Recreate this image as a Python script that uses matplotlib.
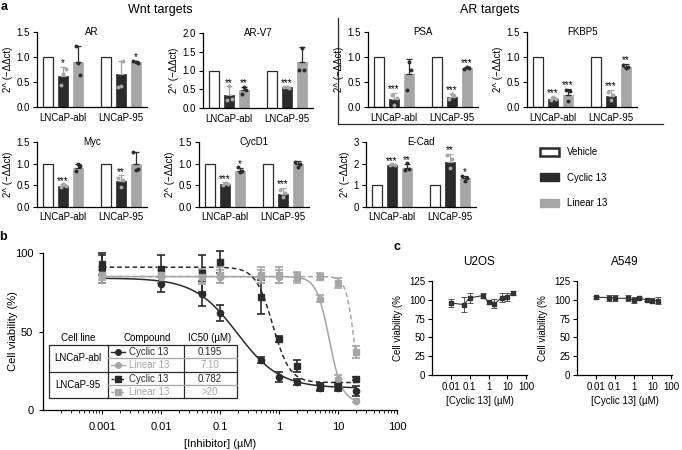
import numpy as np
import matplotlib
matplotlib.use('Agg')
import matplotlib.pyplot as plt
from matplotlib.patches import Patch, Rectangle
from matplotlib.lines import Line2D

plt.rcParams['font.family'] = ['Liberation Sans', 'DejaVu Sans']
plt.rcParams['font.size'] = 7
plt.rcParams['axes.linewidth'] = 0.9

DARK = '#2b2b2b'
GREY = '#a6a6a6'

W, H = 682, 450

# ---------------- panel a data ----------------
cell_lines = ['LNCaP-abl', 'LNCaP-95']
treatments = ['Vehicle', 'Cyclic 13', 'Linear 13']
vehicle_mean = 1.0
# order inside each list: abl cyclic, abl linear, 95 cyclic, 95 linear
qpcr_mean = {
    'AR':    [0.62, 0.90, 0.66, 0.90],
    'AR-V7': [0.36, 0.47, 0.55, 1.22],
    'PSA':   [0.17, 0.67, 0.21, 0.78],
    'FKBP5': [0.17, 0.25, 0.23, 0.81],
    'Myc':   [0.48, 0.89, 0.60, 1.00],
    'CycD1': [0.53, 0.84, 0.31, 1.00],
    'E-Cad': [1.95, 1.78, 2.09, 1.32],
}
qpcr_sd = {
    'AR':    [0.19, 0.32, 0.27, 0.03],
    'AR-V7': [0.22, 0.09, 0.02, 0.40],
    'PSA':   [0.12, 0.29, 0.05, 0.03],
    'FKBP5': [0.04, 0.12, 0.12, 0.05],
    'Myc':   [0.04, 0.10, 0.13, 0.27],
    'CycD1': [0.04, 0.06, 0.13, 0.07],
    'E-Cad': [0.02, 0.22, 0.36, 0.13],
}
qpcr_pts = {
    'AR':    [[0.45, 0.66, 0.76], [1.22, 0.88, 0.65], [0.40, 0.42, 0.93], [0.93, 0.90, 0.88]],
    'AR-V7': [[0.22, 0.60, 0.24], [0.38, 0.55, 0.48], [0.56, 0.55, 0.54], [1.02, 1.60, 1.02]],
    'PSA':   [[0.25, 0.05, 0.18], [0.35, 0.91, 0.75], [0.17, 0.26, 0.22], [0.77, 0.81, 0.79]],
    'FKBP5': [[0.14, 0.20, 0.17], [0.35, 0.12, 0.32], [0.30, 0.15, 0.25], [0.85, 0.79, 0.80]],
    'Myc':   [[0.46, 0.52, 0.48], [0.82, 0.99, 0.95], [0.66, 0.47, 0.62], [1.27, 0.85, 0.88]],
    'CycD1': [[0.51, 0.56, 0.53], [0.92, 0.80, 0.84], [0.40, 0.22, 0.33], [1.05, 0.92, 1.00]],
    'E-Cad': [[1.93, 1.97, 1.95], [1.72, 2.02, 1.75], [2.42, 1.82, 2.20], [1.45, 1.21, 1.35]],
}
qpcr_stars = {
    'AR':    ['*', '', '', '*'],
    'AR-V7': ['**', '**', '***', ''],
    'PSA':   ['***', '', '***', '***'],
    'FKBP5': ['***', '***', '***', '**'],
    'Myc':   ['***', '', '**', ''],
    'CycD1': ['***', '*', '***', ''],
    'E-Cad': ['***', '**', '**', '*'],
}
qpcr_yticks = {
    'AR': [0, 0.5, 1.0, 1.5], 'AR-V7': [0, 0.5, 1.0, 1.5, 2.0],
    'PSA': [0, 0.5, 1.0, 1.5], 'FKBP5': [0, 0.5, 1.0, 1.5],
    'Myc': [0, 0.5, 1.0, 1.5], 'CycD1': [0, 0.5, 1.0, 1.5],
    'E-Cad': [0, 1, 2, 3],
}

# ---------------- panel b data ----------------
conc = [0.001, 0.01, 0.05, 0.1, 0.5, 1, 2, 5, 10, 20]
abl_cyc = [90, 80, 74, 62, 32, 21, 18, 14, 14, 12]
abl_cyc_sd = [9, 5, 8, 5, 2, 3, 2, 2, 2, 3]
abl_lin = [86, 85, 85, 85, 85, 85, 84, 71, 20, 6]
abl_lin_sd = [3, 4, 4, 4, 4, 4, 3, 2, 2, 1]
p95_cyc = [93, 90, 87, 94, 72, 45, 28, 15, 15, 20]
p95_cyc_sd = [7, 9, 12, 7, 11, 2, 4, 2, 2, 1]
p95_lin = [86, 86, 85, 86, 86, 86, 85, 85, 81, 37]
p95_lin_sd = [5, 5, 5, 5, 5, 5, 3, 2, 3, 4]
# 4-parameter logistic fits: top, bottom, IC50, hill
fit_abl_cyc = (84, 14, 0.195, 1.2)
fit_abl_lin = (85, 5, 7.10, 4.0)
fit_95_cyc = (91, 17.5, 0.782, 3.0)
fit_95_lin = (85, 0, 19.0, 6.0)
ic50_text = ['0.195', '7.10', '0.782', '>20']

# ---------------- panel c data ----------------
conc_c = [0.01, 0.05, 0.1, 0.5, 1, 2, 5, 10, 20]
u2os = [95.8, 93.6, 102.5, 105.6, 96.7, 94.5, 103, 103.4, 109]
u2os_sd = [5, 10, 7, 3, 2, 6, 6, 5, 3]
a549 = [103.3, 103, 102, 102, 99.7, 102.4, 99.7, 98.8, 98.8]
a549_sd = [2, 4, 4, 4, 4, 1, 1, 3, 5]


def rect(x0, y0, x1, y1):
    return [x0 / W, 1 - y1 / H, (x1 - x0) / W, (y1 - y0) / H]


def logistic(x, p):
    top, bottom, ic, hill = p
    return bottom + (top - bottom) / (1 + (x / ic) ** hill)


fig = plt.figure(figsize=(6.82, 4.5), dpi=100)


def bar_panel(box, gene):
    ax = fig.add_axes(rect(*box))
    ymax = qpcr_yticks[gene][-1]
    gap = 3.87
    for g in range(2):
        base = g * gap
        ax.bar(base, vehicle_mean, 0.7, color='white', edgecolor=DARK, lw=0.9)
        for t, (face, other) in enumerate([(DARK, GREY), (GREY, DARK)]):
            k = 2 * g + t
            x = base + 1 + t
            m = qpcr_mean[gene][k]
            s = qpcr_sd[gene][k]
            ax.bar(x, m, 0.7, color=face, edgecolor=face, lw=0.5)
            ax.errorbar(x, m, yerr=[[0], [s]], color=other, capsize=2,
                        elinewidth=0.9, capthick=0.9, fmt='none')
            ax.scatter(x + np.array([-0.16, 0.0, 0.16]), qpcr_pts[gene][k],
                       s=8, color=other, lw=0, zorder=3)
            if qpcr_stars[gene][k]:
                ax.text(x, m + s - ymax * 0.02, qpcr_stars[gene][k],
                        ha='center', va='bottom', fontsize=7)
        ax.text(base + 1, -ymax * 0.08, cell_lines[g], ha='center', va='top',
                fontsize=7)
    ax.set_xlim(-0.75, gap + 2.75)
    ax.set_ylim(0, ymax)
    ax.set_yticks(qpcr_yticks[gene])
    if gene == 'E-Cad':
        ax.set_yticklabels(['%d' % v for v in qpcr_yticks[gene]])
    else:
        ax.set_yticklabels(['%.1f' % v for v in qpcr_yticks[gene]])
    ax.set_xticks([])
    ax.tick_params(axis='y', length=3, width=0.8, pad=2, labelsize=7)
    for sp in ['top', 'right']:
        ax.spines[sp].set_visible(False)
    ax.set_ylabel('2^ (\u2212\u0394\u0394ct)', fontsize=7, labelpad=3)
    ax.text(0.5, 1.0, gene, transform=ax.transAxes, ha='center', va='center',
            fontsize=7)
    return ax


bar_panel((37, 32, 147, 107), 'AR')
bar_panel((203, 33, 313, 108), 'AR-V7')
bar_panel((368, 32, 478, 107), 'PSA')
bar_panel((527, 32, 637, 107), 'FKBP5')
bar_panel((37, 142, 147, 207), 'Myc')
bar_panel((199, 142, 309, 207), 'CycD1')
bar_panel((366, 142, 476, 207), 'E-Cad')

fig.text(160 / W, 1 - 10 / H, 'Wnt targets', ha='center', va='center', fontsize=9)
fig.text(490 / W, 1 - 10 / H, 'AR targets', ha='center', va='center', fontsize=9)
fig.add_artist(Line2D([338 / W, 338 / W], [1 - 18 / H, 1 - 124 / H], color=DARK, lw=0.9))
fig.add_artist(Line2D([338 / W, 663 / W], [1 - 124 / H, 1 - 124 / H], color=DARK, lw=0.9))

handles = [Patch(facecolor='white', edgecolor=DARK, lw=1.8),
           Patch(facecolor=DARK, edgecolor=DARK),
           Patch(facecolor=GREY, edgecolor=GREY)]
fig.legend(handles, treatments, loc='upper left', bbox_to_anchor=(540 / W, 1 - 147 / H),
           frameon=False, fontsize=7, handlelength=2.0, handleheight=0.85,
           labelspacing=1.6, handletextpad=0.75, borderpad=0, borderaxespad=0)

# ---------------- panel b ----------------
axb = fig.add_axes(rect(43, 253, 397, 410))
xx = np.logspace(-3, np.log10(20), 300)
series_b = [
    (abl_cyc, abl_cyc_sd, fit_abl_cyc, DARK, 'o', '-'),
    (abl_lin, abl_lin_sd, fit_abl_lin, GREY, 'o', '-'),
    (p95_cyc, p95_cyc_sd, fit_95_cyc, DARK, 's', '--'),
    (p95_lin, p95_lin_sd, fit_95_lin, GREY, 's', '--'),
]
for vals, sds, fit, col, mk, ls in series_b:
    axb.plot(xx, logistic(xx, fit), color=col, lw=1.1, ls=ls,
             dashes=(3, 2) if ls == '--' else (None, None))
    axb.errorbar(conc, vals, yerr=sds, fmt=mk, color=col, ms=4.5, capsize=3,
                 elinewidth=1.2, capthick=1.2, clip_on=False)
axb.set_xscale('log')
axb.set_xlim(1e-4, 100)
axb.set_ylim(0, 100)
axb.set_xticks([0.001, 0.01, 0.1, 1, 10, 100])
axb.set_xticklabels(['0.001', '0.01', '0.1', '1', '10', '100'])
axb.set_yticks([0, 50, 100])
axb.tick_params(labelsize=8, length=3, width=0.8, pad=4)
axb.tick_params(axis='x', which='minor', length=2, width=0.6)
axb.tick_params(axis='x', pad=6)
for sp in ['top', 'right']:
    axb.spines[sp].set_visible(False)
axb.set_xlabel('[Inhibitor] (\u00b5M)', fontsize=8, labelpad=5)
fig.text(13 / W, 1 - 331 / H, 'Cell viability (%)', rotation=90, ha='center',
         va='center', fontsize=8)

# table inside panel b (pixel layout)
axt = fig.add_axes(rect(46, 330, 242, 402))
axt.set_xlim(46, 242)
axt.set_ylim(402, 330)
axt.axis('off')
axt.add_patch(Rectangle((49, 345), 188, 53, facecolor='white', edgecolor=DARK, lw=0.9))
axt.plot([108, 108], [345, 398], color=DARK, lw=0.9)
axt.plot([184, 184], [345, 398], color=DARK, lw=0.9)
axt.plot([49, 237], [371.5, 371.5], color=DARK, lw=0.9)
axt.plot([108, 237], [358, 358], color=GREY, lw=0.9)
axt.plot([108, 237], [385, 385], color=GREY, lw=0.9)
axt.text(78, 338, 'Cell line', ha='center', va='center', fontsize=7)
axt.text(147, 338, 'Compound', ha='center', va='center', fontsize=7)
axt.text(210, 338, 'IC50 (\u00b5M)', ha='center', va='center', fontsize=7)
axt.text(78, 358, cell_lines[0], ha='center', va='center', fontsize=7)
axt.text(78, 385, cell_lines[1], ha='center', va='center', fontsize=7)
row_y = [351.5, 365, 378.5, 391.5]
for (vals, sds, fit, col, mk, ls), y, ic, name in zip(series_b, row_y, ic50_text,
                                                      ['Cyclic 13', 'Linear 13'] * 2):
    axt.plot([111, 125], [y, y], color=col, lw=1.0, ls=ls, dashes=(2, 1.5) if ls == '--' else (None, None))
    axt.plot([118], [y], marker=mk, color=col, ms=4)
    axt.text(129, y, name, ha='left', va='center', fontsize=7, color=col)
    axt.text(210, y, ic, ha='center', va='center', fontsize=7, color=col)

# ---------------- panel c ----------------
def viability_panel(box, vals, sds, title):
    ax = fig.add_axes(rect(*box))
    ax.errorbar(conc_c, vals, yerr=sds, fmt='s-', color='#333333', ms=3.5, lw=0.8,
                ecolor='#555555', elinewidth=0.7, capsize=2, capthick=0.7)
    ax.set_xscale('log')
    ax.set_xlim(1e-3, 110)
    ax.set_ylim(0, 125)
    ax.set_xticks([0.01, 0.1, 1, 10, 100])
    ax.set_xticklabels(['0.01', '0.1', '1', '10', '100'])
    ax.set_yticks([0, 25, 50, 75, 100, 125])
    ax.tick_params(labelsize=7, length=3, width=0.8, pad=2)
    ax.tick_params(axis='x', which='minor', length=1.5, width=0.5)
    for sp in ['top', 'right']:
        ax.spines[sp].set_visible(False)
    ax.set_xlabel('[Cyclic 13] (\u00b5M)', fontsize=7, labelpad=3)
    ax.set_ylabel('Cell viability (%', fontsize=7, labelpad=4)
    ax.text(0.5, 1.2, title, transform=ax.transAxes, ha='center', va='center',
            fontsize=8.5)
    return ax


viability_panel((432, 281, 527, 375), u2os, u2os_sd, 'U2OS')
viability_panel((577, 281, 672, 375), a549, a549_sd, 'A549')

fig.text(1 / W, 1 - 1 / H, 'a', ha='left', va='top', fontsize=9, fontweight='bold')
fig.text(3 / W, 1 - 237 / H, 'b', ha='center', va='center', fontsize=9, fontweight='bold')
fig.text(397 / W, 1 - 247 / H, 'c', ha='center', va='center', fontsize=9, fontweight='bold')

fig.savefig('out.png', dpi=100)
